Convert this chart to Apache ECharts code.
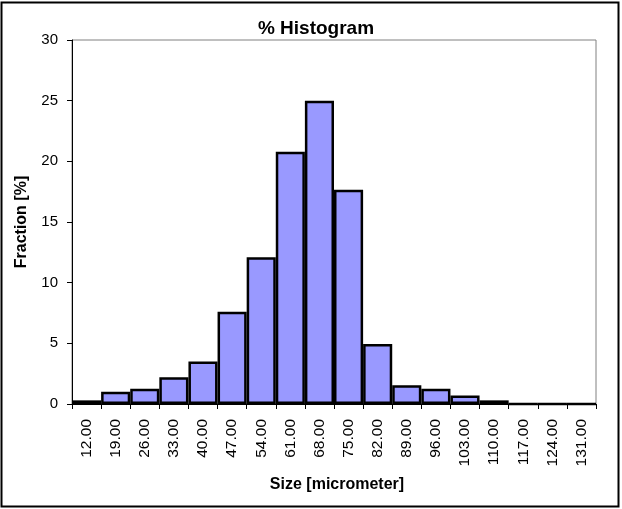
<!DOCTYPE html>
<html><head><meta charset="utf-8">
<script src="https://cdn.jsdelivr.net/npm/echarts@6/dist/echarts.min.js"></script>
<style>html,body{margin:0;padding:0;background:#fff}#c{width:622px;height:509px}</style>
</head><body><div id="c"></div>
<script>
const categories = ['12.00','19.00','26.00','33.00','40.00','47.00','54.00','61.00','68.00','75.00','82.00','89.00','96.00','103.00','110.00','117.00','124.00','131.00'];
const fractions = [0.3, 1.0, 1.25, 2.2, 3.5, 7.6, 12.1, 20.8, 25.0, 17.65, 4.95, 1.55, 1.25, 0.7, 0.3, 0, 0, 0];
const yTicks = [0, 5, 10, 15, 20, 25, 30];
const titleText = '% Histogram';
const xName = 'Size [micrometer]';
const yName = 'Fraction [%]';

const chart = echarts.init(document.getElementById('c'), null, {renderer: 'canvas'});
const F = '"Liberation Sans", Arial, sans-serif';
chart.setOption({
  animation: false,
  backgroundColor: '#fff',
  title: {text: titleText, left: 311, top: 14, textAlign: 'center',
    textStyle: {fontFamily: F, fontWeight: 'bold', fontSize: 19, color: '#000'}},
  graphic: [{type: 'rect', shape: {x: 1.5, y: 2.5, width: 617, height: 504}, silent: true,
    style: {fill: 'none', stroke: '#000', lineWidth: 2}}],
  grid: {left: 72, right: 26, top: 40, bottom: 105, show: true, borderColor: '#808080', borderWidth: 1, backgroundColor: '#fff'},
  xAxis: {type: 'category', data: categories, name: xName, nameLocation: 'middle', nameGap: 73,
    nameTextStyle: {fontFamily: F, fontWeight: 'bold', fontSize: 16, color: '#000', padding: [0, 0, 0, 6]},
    axisLine: {lineStyle: {color: '#000', width: 1}},
    axisTick: {show: true, length: 5, lineStyle: {color: '#000'}},
    axisLabel: {rotate: 90, margin: 15, fontFamily: F, fontSize: 15.5, color: '#000', interval: 0}},
  yAxis: {type: 'value', min: 0, max: 30, interval: 5, name: yName, nameLocation: 'middle', nameGap: 42,
    nameTextStyle: {fontFamily: F, fontWeight: 'bold', fontSize: 16, color: '#000'},
    axisLine: {show: true, lineStyle: {color: '#000', width: 1}},
    axisTick: {show: true, length: 5, lineStyle: {color: '#000'}},
    splitLine: {show: false},
    axisLabel: {margin: 14, fontFamily: F, fontSize: 15, color: '#000',
      formatter: v => yTicks.includes(v) ? String(v) : ''}},
  series: [{type: 'bar', data: fractions, barCategoryGap: '0%',
    itemStyle: {color: '#9999FF', borderColor: '#000', borderWidth: 2.5}}]
});
</script></body></html>
